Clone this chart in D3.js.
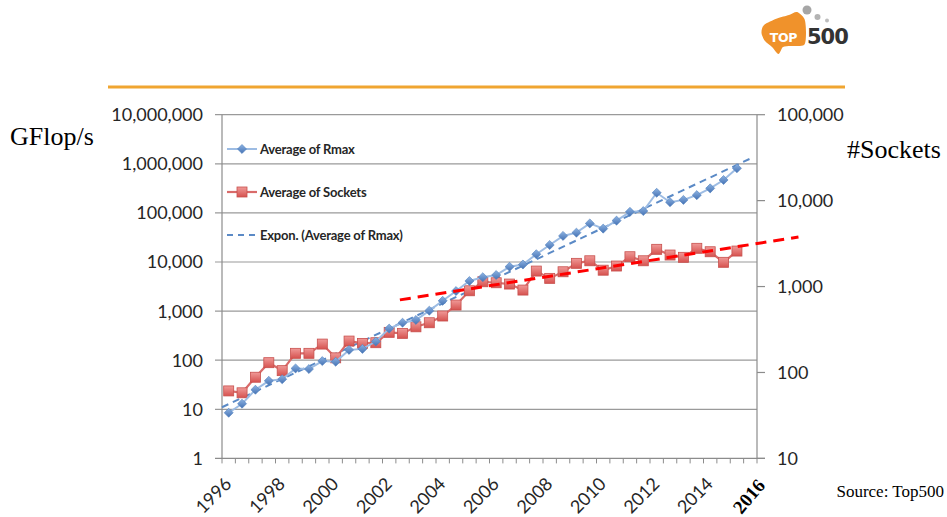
<!DOCTYPE html>
<html>
<head>
<meta charset="utf-8">
<script src="https://cdn.jsdelivr.net/npm/d3@7"></script>
<style>
  html, body { margin: 0; padding: 0; background: #fff; }
  svg { display: block; }
</style>
</head>
<body>
<svg id="chart" width="947" height="517"></svg>
<script>
// TOP500 lists, two per year (June / November)
const lists = [
  "Jun 1996","Nov 1996","Jun 1997","Nov 1997","Jun 1998","Nov 1998","Jun 1999","Nov 1999",
  "Jun 2000","Nov 2000","Jun 2001","Nov 2001","Jun 2002","Nov 2002","Jun 2003","Nov 2003",
  "Jun 2004","Nov 2004","Jun 2005","Nov 2005","Jun 2006","Nov 2006","Jun 2007","Nov 2007",
  "Jun 2008","Nov 2008","Jun 2009","Nov 2009","Jun 2010","Nov 2010","Jun 2011","Nov 2011",
  "Jun 2012","Nov 2012","Jun 2013","Nov 2013","Jun 2014","Nov 2014","Jun 2015","Nov 2015"
];
const yearLabels = ["1996","1998","2000","2002","2004","2006","2008","2010","2012","2014"];
const lastYearLabel = "2016";

// Average Rmax (GFlop/s) per list
const avgRmax = [
  8.5, 13, 25, 38, 41, 68, 66, 96, 93, 162,
  170, 240, 440, 580, 660, 1020, 1620, 2560, 4100, 4900,
  5430, 8000, 8900, 14400, 22200, 34000, 39600, 61000, 47800, 69600,
  105000, 109000, 257000, 165000, 184000, 230000, 316000, 468000, 810000
];
// Average number of sockets per list
const avgSockets = [
  61, 58, 88, 130, 105, 167, 167, 214, 148, 232,
  218, 222, 293, 285, 340, 379, 454, 609, 893, 1137,
  1107, 1069, 910, 1514, 1245, 1486, 1862, 1995, 1550, 1733,
  2223, 1995, 2711, 2327, 2188, 2786, 2541, 1914, 2588
];
// Hand-drawn socket growth guide: [list position, sockets]
const socketGuideStart = [12.8, 700];
const socketGuideEnd = [42.6, 3770];

const leftTicks = [1, 10, 100, 1000, 10000, 100000, 1000000, 10000000];
const rightTicks = [10, 100, 1000, 10000, 100000];

const svg = d3.select("#chart");
const plot = { left: 222, right: 757, top: 114.7, bottom: 458.4 };
const sansFont = "Lato, 'Open Sans', sans-serif";
const serifFont = "'Liberation Serif', 'DejaVu Serif', serif";

const x = d3.scaleBand().domain(lists).range([plot.left, plot.right]).paddingInner(0).paddingOuter(0);
const xAt = i => plot.left + x.step() * (i + 0.5);
const yL = d3.scaleLog().domain([1, 1e7]).range([plot.bottom, plot.top]);
const yR = d3.scaleLog().domain([10, 1e5]).range([plot.bottom, plot.top]);
const fmt = d3.format(",");

// ---- header: logo and rule ----
const logo = svg.append("g");
logo.append("path")
  .attr("d", d3.line().curve(d3.curveCardinalClosed.tension(0.2))([
    [764, 25], [777, 18.5], [789, 15], [797, 12], [804.5, 19], [806, 33], [804, 45],
    [791, 46], [783, 47], [778.5, 54], [772, 47], [765, 41], [761.5, 33]
  ]))
  .attr("fill", "#f0922b");
logo.append("text").attr("x", 783.5).attr("y", 41.5).attr("text-anchor", "middle")
  .attr("font-family", "'DejaVu Sans', sans-serif").attr("font-weight", "bold")
  .attr("font-size", 12.5).attr("letter-spacing", -0.3).attr("fill", "#fff").text("TOP");
logo.append("text").attr("x", 807).attr("y", 44)
  .attr("font-family", "'DejaVu Sans', sans-serif").attr("font-weight", "bold")
  .attr("font-size", 21).attr("letter-spacing", -1).attr("fill", "#333").text("500");
logo.append("circle").attr("cx", 807).attr("cy", 10).attr("r", 4.5).attr("fill", "#a6a6a6");
logo.append("circle").attr("cx", 817.5).attr("cy", 17).attr("r", 3).attr("fill", "#b3b3b3");
logo.append("circle").attr("cx", 827).attr("cy", 20.5).attr("r", 2).attr("fill", "#bdbdbd");

svg.append("line").attr("x1", 108).attr("x2", 845).attr("y1", 87).attr("y2", 87)
  .attr("stroke", "#f0a531").attr("stroke-width", 3);

// ---- gridlines (left axis decades) ----
svg.append("g").selectAll("line").data(leftTicks.slice(1)).join("line")
  .attr("x1", plot.left - 7).attr("x2", plot.right)
  .attr("y1", d => yL(d)).attr("y2", d => yL(d))
  .attr("stroke", "#9a9a9a").attr("stroke-width", 1.2);

// ---- axes ----
const axisColor = "#8c8c8c";
svg.append("line").attr("x1", plot.left).attr("x2", plot.left)
  .attr("y1", plot.top).attr("y2", plot.bottom).attr("stroke", axisColor).attr("stroke-width", 1.2);
svg.append("line").attr("x1", plot.right).attr("x2", plot.right)
  .attr("y1", plot.top).attr("y2", plot.bottom).attr("stroke", axisColor).attr("stroke-width", 1.2);
svg.append("line").attr("x1", plot.left - 7).attr("x2", plot.right + 8)
  .attr("y1", plot.bottom).attr("y2", plot.bottom).attr("stroke", axisColor).attr("stroke-width", 1.2);

// right-axis tick marks
svg.append("g").selectAll("line").data(rightTicks).join("line")
  .attr("x1", plot.right).attr("x2", plot.right + 8)
  .attr("y1", d => yR(d)).attr("y2", d => yR(d))
  .attr("stroke", axisColor).attr("stroke-width", 1.2);

// category tick marks along the bottom
svg.append("g").selectAll("line").data(lists.concat([null])).join("line")
  .attr("x1", (d, i) => plot.left + x.step() * i).attr("x2", (d, i) => plot.left + x.step() * i)
  .attr("y1", plot.bottom).attr("y2", plot.bottom + 5)
  .attr("stroke", axisColor).attr("stroke-width", 1);

// left labels
svg.append("g").selectAll("text").data(leftTicks).join("text")
  .attr("x", 203).attr("y", d => yL(d)).attr("dy", "0.36em").attr("text-anchor", "end")
  .attr("font-family", sansFont).attr("font-size", 18).attr("fill", "#262626")
  .text(d => fmt(d));

// right labels
svg.append("g").selectAll("text").data(rightTicks).join("text")
  .attr("x", 777).attr("y", d => yR(d)).attr("dy", "0.36em").attr("text-anchor", "start")
  .attr("font-family", sansFont).attr("font-size", 18).attr("fill", "#262626")
  .text(d => fmt(d));

// year labels, rotated
svg.append("g").selectAll("text").data(yearLabels).join("text")
  .attr("transform", d => `translate(${x("Jun " + d) + x.step() / 2 + 4},485) rotate(-45)`)
  .attr("text-anchor", "end")
  .attr("font-family", sansFont).attr("font-size", 18).attr("fill", "#262626")
  .text(d => d);
svg.append("text")
  .attr("transform", `translate(${plot.right + 9},486) rotate(-50)`)
  .attr("text-anchor", "end")
  .attr("font-family", serifFont).attr("font-weight", "bold").attr("font-size", 19).attr("fill", "#000")
  .text(lastYearLabel);

// axis titles and source
svg.append("text").attr("x", 10).attr("y", 145).attr("font-family", serifFont)
  .attr("font-size", 26).attr("fill", "#000").text("GFlop/s");
svg.append("text").attr("x", 847).attr("y", 158).attr("font-family", serifFont)
  .attr("font-size", 26).attr("fill", "#000").text("#Sockets");
svg.append("text").attr("x", 944).attr("y", 497).attr("text-anchor", "end").attr("font-family", serifFont)
  .attr("font-size", 17).attr("fill", "#000").text("Source: Top500");

// ---- marker gradients ----
const defs = svg.append("defs");
const gBlue = defs.append("linearGradient").attr("id", "gBlue").attr("x1", 0).attr("y1", 0).attr("x2", 0).attr("y2", 1);
gBlue.append("stop").attr("offset", 0).attr("stop-color", "#8db3e2");
gBlue.append("stop").attr("offset", 1).attr("stop-color", "#4572b4");
const gRed = defs.append("linearGradient").attr("id", "gRed").attr("x1", 0).attr("y1", 0).attr("x2", 0).attr("y2", 1);
gRed.append("stop").attr("offset", 0).attr("stop-color", "#f09a98");
gRed.append("stop").attr("offset", 1).attr("stop-color", "#d6524f");

// ---- exponential trend of Rmax (least squares on log values) ----
const n = avgRmax.length;
const xs = d3.range(n), ls = avgRmax.map(v => Math.log10(v));
const mx = d3.mean(xs), ml = d3.mean(ls);
const slope = d3.sum(xs, (xi, k) => (xi - mx) * (ls[k] - ml)) / d3.sum(xs, xi => (xi - mx) ** 2);
const icpt = ml - slope * mx;
const trendSpan = [-0.5, n];
svg.append("path")
  .attr("d", d3.line()(trendSpan.map(i => [xAt(i), yL(Math.pow(10, icpt + slope * i))])))
  .attr("fill", "none").attr("stroke", "#5b8ac6").attr("stroke-width", 2)
  .attr("stroke-dasharray", "7,5");

// ---- sockets series (right axis) ----
const socketLine = d3.line().x((d, i) => xAt(i)).y(d => yR(d));
svg.append("path").attr("d", socketLine(avgSockets))
  .attr("fill", "none").attr("stroke", "#d96b6a").attr("stroke-width", 2.2);
svg.append("g").selectAll("rect").data(avgSockets).join("rect")
  .attr("x", (d, i) => xAt(i) - 5).attr("y", d => yR(d) - 5)
  .attr("width", 10).attr("height", 10)
  .attr("fill", "url(#gRed)").attr("stroke", "#c8504d").attr("stroke-width", 0.8);

// ---- Rmax series (left axis) ----
const rmaxLine = d3.line().x((d, i) => xAt(i)).y(d => yL(d));
svg.append("path").attr("d", rmaxLine(avgRmax))
  .attr("fill", "none").attr("stroke", "#9dbce3").attr("stroke-width", 2);
const diamond = d3.symbol().type(d3.symbolDiamond2).size(52);
svg.append("g").selectAll("path").data(avgRmax).join("path")
  .attr("transform", (d, i) => `translate(${xAt(i)},${yL(d)})`)
  .attr("d", diamond)
  .attr("fill", "url(#gBlue)").attr("stroke", "#4f7fbd").attr("stroke-width", 0.6);

// ---- socket growth guide ----
svg.append("path")
  .attr("d", d3.line()([socketGuideStart, socketGuideEnd].map(p => [xAt(p[0]), yR(p[1])])))
  .attr("fill", "none").attr("stroke", "#ff0000").attr("stroke-width", 3)
  .attr("stroke-dasharray", "11,7");

// ---- legend ----
const legend = svg.append("g").attr("font-family", sansFont).attr("font-weight", "bold")
  .attr("font-size", 13).attr("letter-spacing", -0.2).attr("fill", "#262626");
const lx0 = 227, lx1 = 257, lmid = 242;
legend.append("line").attr("x1", lx0).attr("x2", lx1).attr("y1", 149).attr("y2", 149)
  .attr("stroke", "#9dbce3").attr("stroke-width", 2);
legend.append("path").attr("transform", `translate(${lmid},149)`).attr("d", diamond)
  .attr("fill", "url(#gBlue)").attr("stroke", "#4f7fbd").attr("stroke-width", 0.6);
legend.append("text").attr("x", 260).attr("y", 149).attr("dy", "0.35em").text("Average of Rmax");

legend.append("line").attr("x1", lx0).attr("x2", lx1).attr("y1", 192).attr("y2", 192)
  .attr("stroke", "#d96b6a").attr("stroke-width", 2.2);
legend.append("rect").attr("x", lmid - 5).attr("y", 187).attr("width", 10).attr("height", 10)
  .attr("fill", "url(#gRed)").attr("stroke", "#c8504d").attr("stroke-width", 0.8);
legend.append("text").attr("x", 260).attr("y", 192).attr("dy", "0.35em").text("Average of Sockets");

legend.append("line").attr("x1", lx0).attr("x2", lx1).attr("y1", 235).attr("y2", 235)
  .attr("stroke", "#5b8ac6").attr("stroke-width", 2).attr("stroke-dasharray", "6,5");
legend.append("text").attr("x", 260).attr("y", 235).attr("dy", "0.35em").text("Expon. (Average of Rmax)");
</script>
</body>
</html>
